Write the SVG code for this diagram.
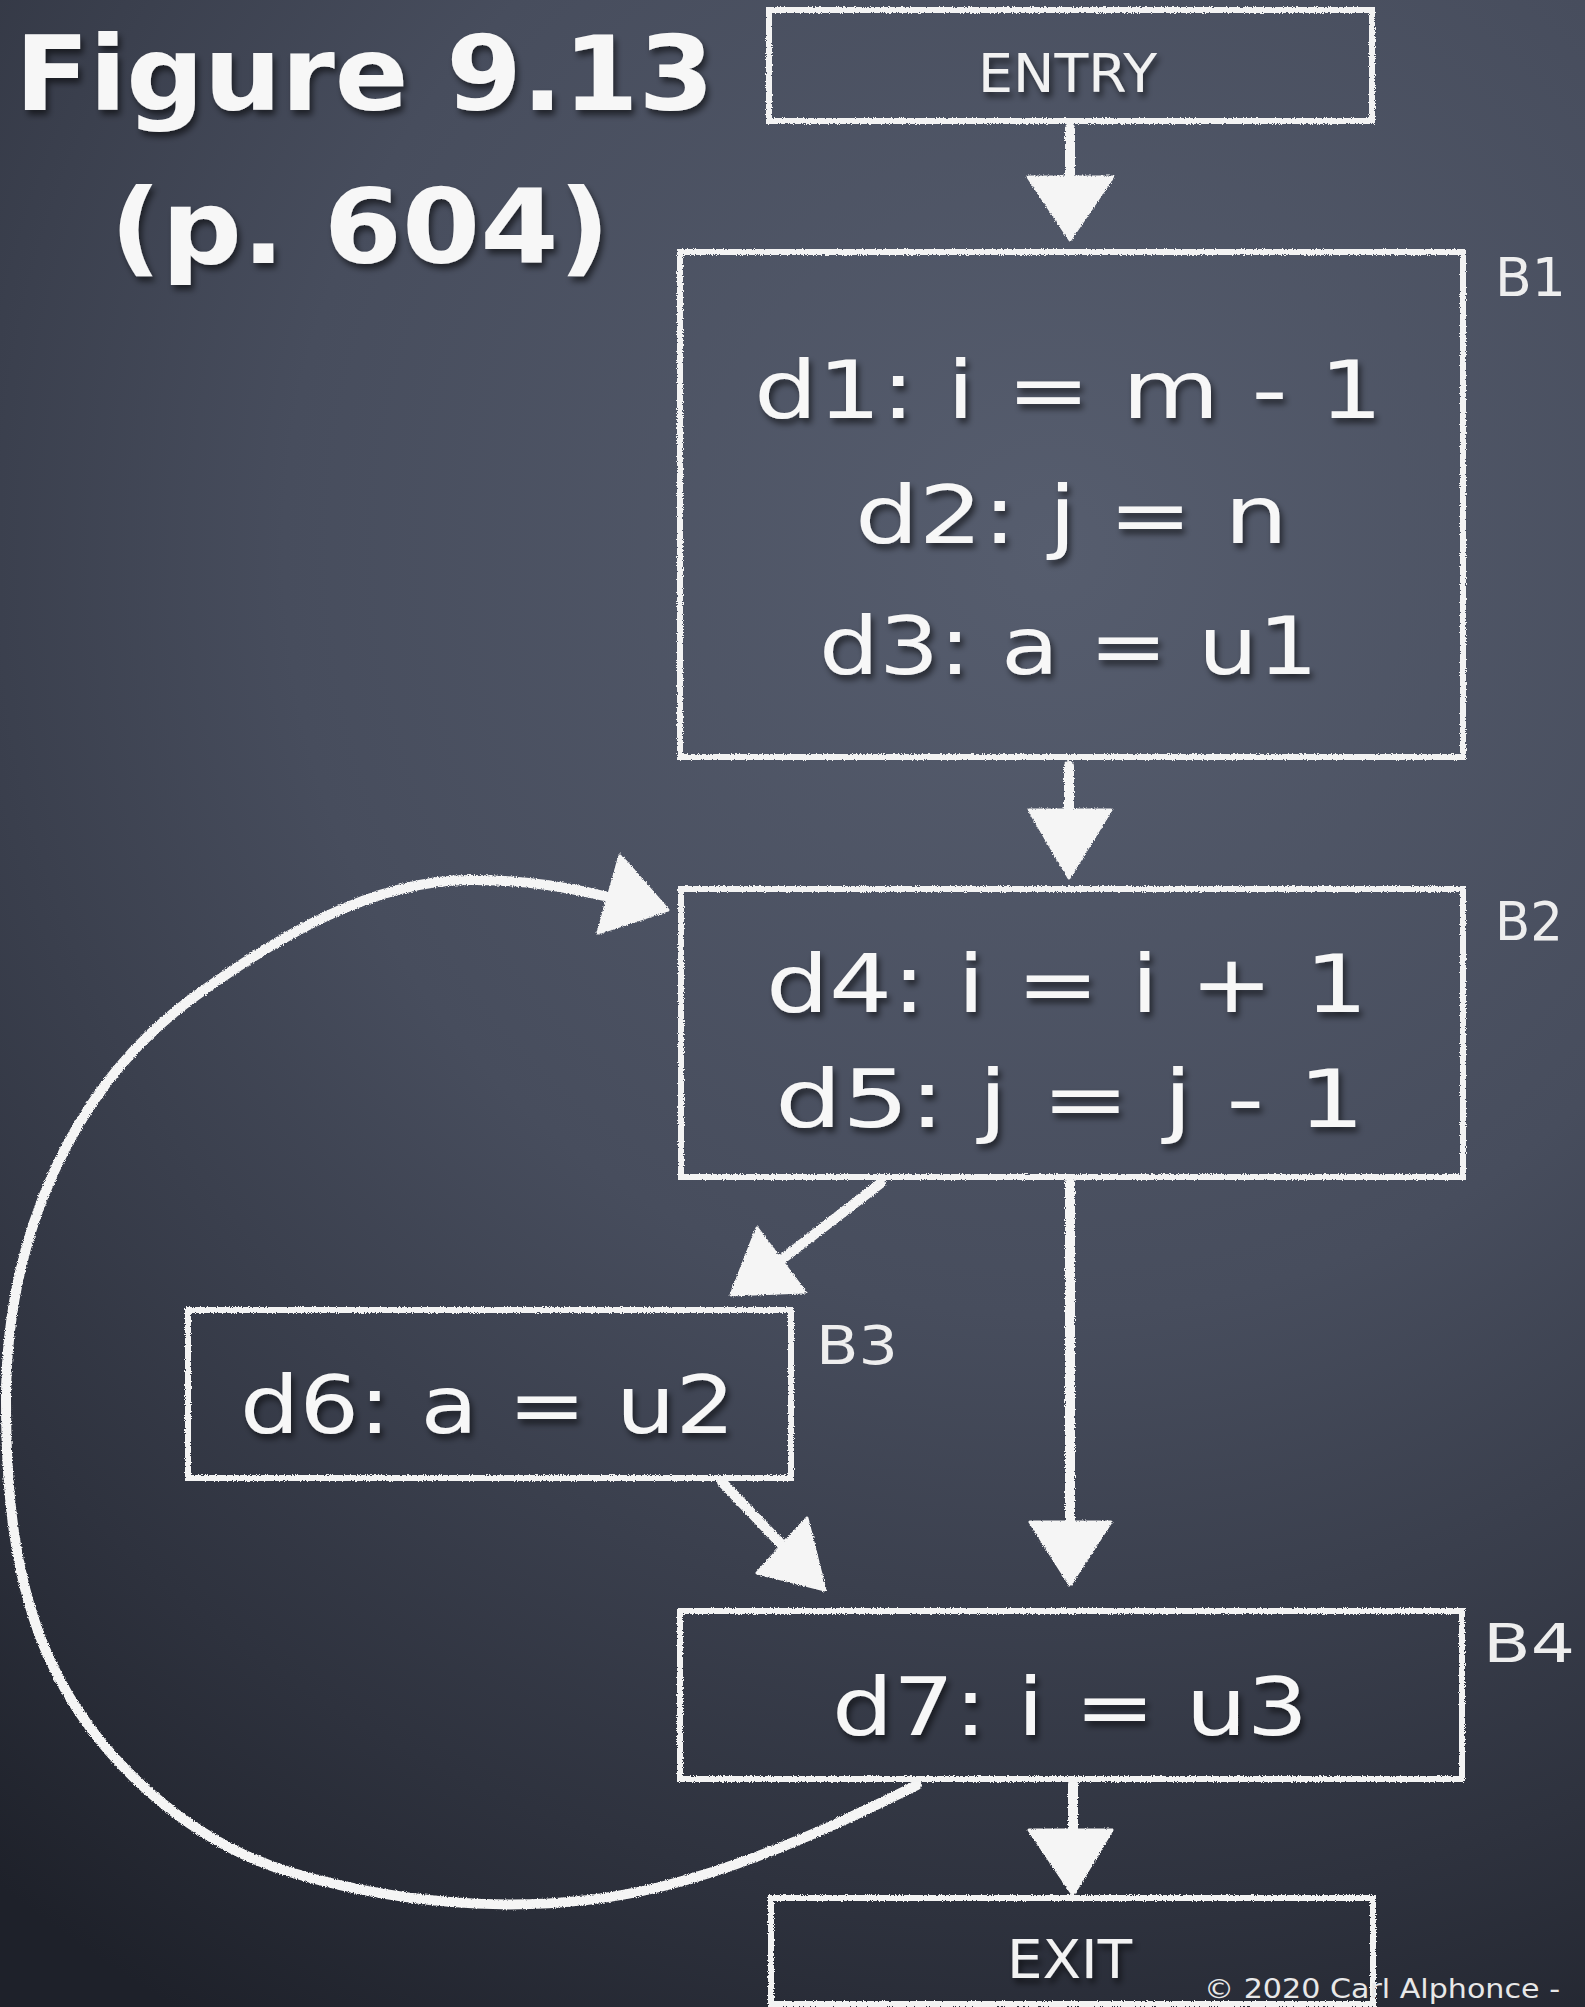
<svg xmlns="http://www.w3.org/2000/svg" width="1585" height="2007" viewBox="0 0 1585 2007">
<defs>
<radialGradient id="bg" gradientUnits="userSpaceOnUse" cx="1050" cy="550" r="1700">
<stop offset="0" stop-color="#565d6e"/>
<stop offset="0.45" stop-color="#474d5d"/>
<stop offset="0.8" stop-color="#2e323e"/>
<stop offset="1" stop-color="#1e212a"/>
</radialGradient>
<filter id="chalk" filterUnits="userSpaceOnUse" x="0" y="0" width="1585" height="2007">
<feTurbulence type="fractalNoise" baseFrequency="0.9" numOctaves="2" seed="3" result="n"/>
<feDisplacementMap in="SourceGraphic" in2="n" scale="3.5" xChannelSelector="R" yChannelSelector="G"/>
</filter>
<filter id="shadow" filterUnits="userSpaceOnUse" x="0" y="0" width="1585" height="2007">
<feDropShadow dx="3" dy="5" stdDeviation="3" flood-color="#000" flood-opacity="0.55"/>
</filter>
<style>
.box{fill:none;stroke:#f3f3f3;stroke-width:6;}
.ln{fill:none;stroke:#f5f5f5;stroke-width:10;stroke-linecap:round;}
.head{fill:#f5f5f5;stroke:#f5f5f5;stroke-width:3;stroke-linejoin:round;}
.code{font-family:"DejaVu Sans",sans-serif;font-size:80px;fill:#f7f7f7;}
.lbl{font-family:"DejaVu Sans",sans-serif;font-size:54px;fill:#eeeeee;}
.title{font-family:"DejaVu Sans",sans-serif;font-size:104px;font-weight:bold;fill:#f7f7f7;}
.small{font-family:"DejaVu Sans",sans-serif;font-size:54px;fill:#f2f2f2;}
.copy{font-family:"DejaVu Sans",sans-serif;font-size:26px;fill:#e8e8e8;}
</style>
</defs>
<rect x="0" y="0" width="1585" height="2007" fill="url(#bg)"/>

<g id="title" filter="url(#shadow)">
<text class="title" x="15" y="110" textLength="699" lengthAdjust="spacingAndGlyphs">Figure 9.13</text>
<text class="title" x="110" y="263" textLength="500" lengthAdjust="spacingAndGlyphs" font-size="112">(p. 604)</text>
</g>

<g id="connectors" filter="url(#chalk)">
<g id="e-entry-b1">
<line class="ln" x1="1070" y1="128" x2="1070" y2="182"/>
<polygon class="head" points="1028,177 1113,177 1070,240"/>
</g>
<g id="e-b1-b2">
<line class="ln" x1="1069" y1="766" x2="1069" y2="814"/>
<polygon class="head" points="1029,810 1111,810 1069,878"/>
</g>
<g id="e-b2-b3">
<line class="ln" x1="881" y1="1183" x2="781" y2="1260"/>
<polygon class="head" points="757,1228 805,1292 731,1295"/>
</g>
<g id="e-b2-b4">
<line class="ln" x1="1070" y1="1182" x2="1070" y2="1526"/>
<polygon class="head" points="1030,1522 1111,1522 1070,1585"/>
</g>
<g id="e-b3-b4">
<line class="ln" x1="722" y1="1482" x2="782" y2="1545"/>
<polygon class="head" points="807,1518 757,1573 825,1590"/>
</g>
<g id="e-b4-exit">
<line class="ln" x1="1073" y1="1784" x2="1073" y2="1834"/>
<polygon class="head" points="1029,1830 1112,1830 1073,1895"/>
</g>
<g id="e-b4-b2">
<path class="ln" d="M 917 1785 C 835 1826, 749 1865, 660 1887 C 542 1916, 410 1907, 293 1873 C 189 1843, 95 1758, 50 1660 C 13 1580, 6 1488, 6 1400 C 6 1240, 70 1090, 190 1000 C 275 938, 372 880, 470 880 C 530 880, 570 888, 604 896"/>
<polygon class="head" points="620,855 668,910 598,933"/>
</g>
</g>

<g id="node-entry">
<rect class="box" x="769" y="10" width="603" height="111" filter="url(#chalk)"/>
<text class="small" x="978" y="92" textLength="179" lengthAdjust="spacingAndGlyphs" filter="url(#shadow)">ENTRY</text>
</g>

<g id="node-b1">
<rect class="box" x="680" y="252" width="783" height="505" filter="url(#chalk)"/>
<g filter="url(#shadow)">
<text class="code" x="754" y="418" textLength="629" lengthAdjust="spacingAndGlyphs">d1: i = m - 1</text>
<text class="code" x="855" y="543" textLength="433" lengthAdjust="spacingAndGlyphs">d2: j = n</text>
<text class="code" x="819" y="674" textLength="499" lengthAdjust="spacingAndGlyphs">d3: a = u1</text>
</g>
<text class="lbl" x="1495" y="296" textLength="71" lengthAdjust="spacingAndGlyphs">B1</text>
</g>

<g id="node-b2">
<rect class="box" x="681" y="889" width="782" height="288" filter="url(#chalk)"/>
<g filter="url(#shadow)">
<text class="code" x="766" y="1012" textLength="602" lengthAdjust="spacingAndGlyphs">d4: i = i + 1</text>
<text class="code" x="775" y="1127" textLength="590" lengthAdjust="spacingAndGlyphs">d5: j = j - 1</text>
</g>
<text class="lbl" x="1495" y="940" textLength="68" lengthAdjust="spacingAndGlyphs">B2</text>
</g>

<g id="node-b3">
<rect class="box" x="188" y="1310" width="603" height="168" filter="url(#chalk)"/>
<text class="code" x="240" y="1433" textLength="495" lengthAdjust="spacingAndGlyphs" filter="url(#shadow)">d6: a = u2</text>
<text class="lbl" x="816" y="1364" textLength="82" lengthAdjust="spacingAndGlyphs">B3</text>
</g>

<g id="node-b4">
<rect class="box" x="680" y="1611" width="782" height="168" filter="url(#chalk)"/>
<text class="code" x="832" y="1735" textLength="476" lengthAdjust="spacingAndGlyphs" filter="url(#shadow)">d7: i = u3</text>
<text class="lbl" x="1483" y="1662" textLength="92" lengthAdjust="spacingAndGlyphs">B4</text>
</g>

<g id="node-exit">
<rect class="box" x="771" y="1898" width="602" height="106" filter="url(#chalk)"/>
<text class="small" x="1007" y="1978" textLength="125" lengthAdjust="spacingAndGlyphs" filter="url(#shadow)">EXIT</text>
</g>

<text class="copy" x="1204" y="1998" textLength="356" lengthAdjust="spacingAndGlyphs">© 2020 Carl Alphonce -</text>
</svg>
